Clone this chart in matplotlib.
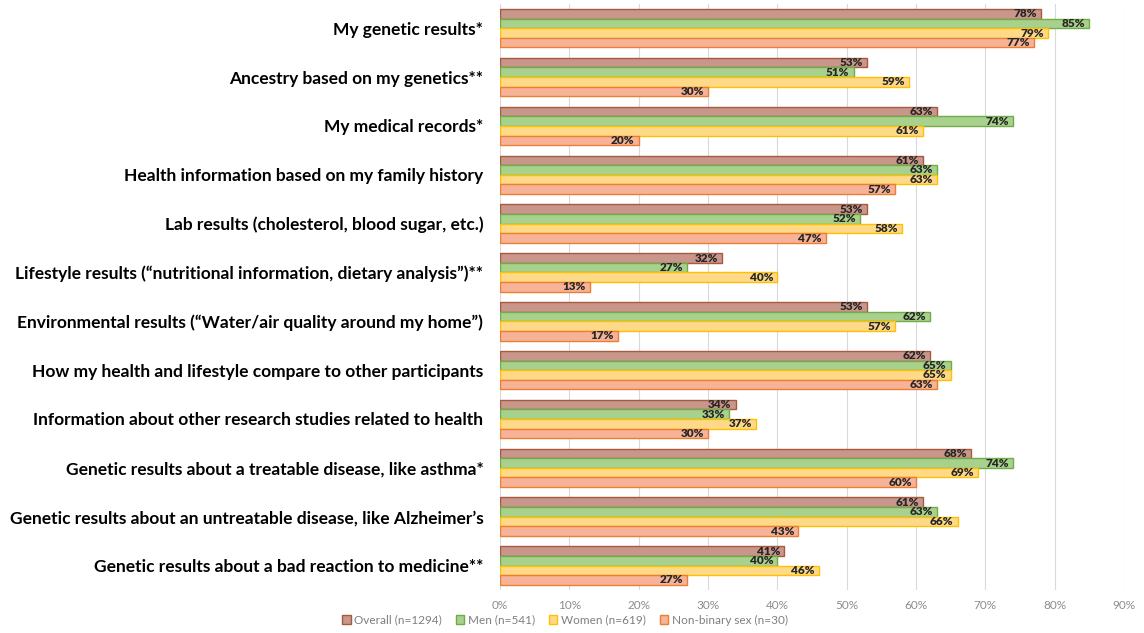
import numpy as np
import matplotlib.pyplot as plt

categories = [
    'My genetic results*',
    'Ancestry based on my genetics**',
    'My medical records*',
    'Health information based on my family history',
    'Lab results (cholesterol, blood sugar, etc.)',
    'Lifestyle results (\u201cnutritional information, dietary analysis\u201d)**',
    'Environmental results (\u201cWater/air quality around my home\u201d)',
    'How my health and lifestyle compare to other participants',
    'Information about other research studies related to health',
    'Genetic results about a treatable disease, like asthma*',
    'Genetic results about an untreatable disease, like Alzheimer\u2019s',
    'Genetic results about a bad reaction to medicine**',
]
series_names = ['Overall (n=1294)', 'Men (n=541)', 'Women (n=619)', 'Non-binary sex (n=30)']
overall = [78, 53, 63, 61, 53, 32, 53, 62, 34, 68, 61, 41]
men = [85, 51, 74, 63, 52, 27, 62, 65, 33, 74, 63, 40]
women = [79, 59, 61, 63, 58, 40, 57, 65, 37, 69, 66, 46]
nonbinary = [77, 30, 20, 57, 47, 13, 17, 63, 30, 60, 43, 27]
tick_values = [0, 10, 20, 30, 40, 50, 60, 70, 80, 90]

fills = ['#C9968B', '#A9D18E', '#FFD98A', '#F6B398']
edges = ['#A65A3E', '#70AD47', '#FFC000', '#ED7D31']

plt.rcParams['font.family'] = ['Lato', 'DejaVu Sans']

fig = plt.figure(figsize=(11.44, 6.33), dpi=100)
ax = fig.add_axes([0.437, 0.068, 0.5455, 0.926])

bar_h = 0.197
y = np.arange(len(categories))
all_series = [overall, men, women, nonbinary]
for i, vals in enumerate(all_series):
    pos = y + (i - 1.5) * bar_h
    bars = ax.barh(pos, vals, height=bar_h, color=fills[i], edgecolor=edges[i],
                   linewidth=1.0, label=series_names[i], zorder=3)
    for b, v in zip(bars, vals):
        ax.text(v - 0.6, b.get_y() + bar_h / 2, f'{v}%', ha='right', va='center',
                fontsize=8.5, fontweight='heavy', color='#262626', zorder=4)

ax.set_ylim(len(categories) - 0.5, -0.5)
ax.set_xlim(0, 90)
ax.set_yticks(y)
ax.set_yticklabels(categories, fontsize=12.5, fontweight='bold', color='black')
ax.set_xticks(tick_values)
ax.set_xticklabels([f'{t}%' for t in tick_values], fontsize=8.5, color='#8C8C8C')
ax.tick_params(axis='both', length=0)
ax.tick_params(axis='y', pad=12)
ax.tick_params(axis='x', pad=7)
for s in ax.spines.values():
    s.set_visible(False)
ax.grid(True, axis='x', color='#D9D9D9', linewidth=0.8, zorder=0)

fig.legend(loc='lower center', bbox_to_anchor=(0.494, -0.005), ncol=4, frameon=False,
           fontsize=8.5, labelcolor='#7F7F7F', handlelength=0.7, handleheight=0.7,
           handletextpad=0.3, columnspacing=1.2)

fig.savefig('out.png', dpi=100)
